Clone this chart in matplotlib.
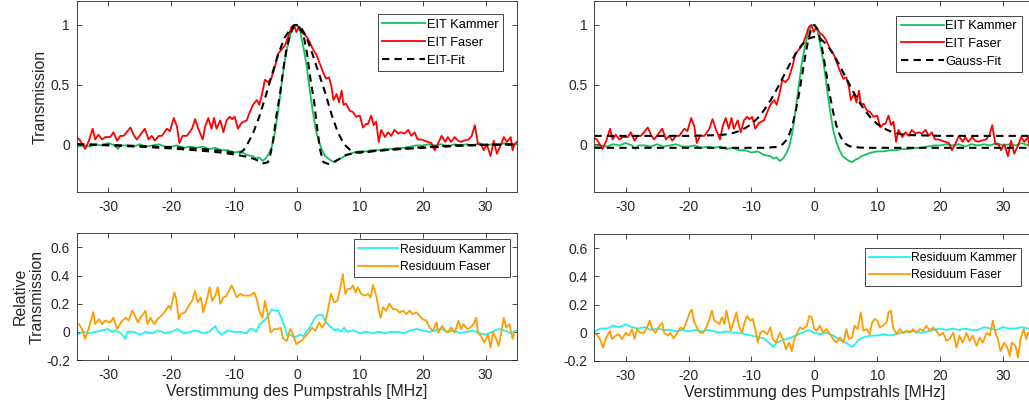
import numpy as np
import matplotlib.pyplot as plt

plt.rcParams['font.family'] = ['Liberation Sans', 'DejaVu Sans']
plt.rcParams['axes.unicode_minus'] = False

faser_x = [-35.0, -34.6, -33.7, -33.1, -32.5, -32.1, -31.6, -31.0, -30.5, -29.7,
           -29.2, -28.6, -28.1, -27.6, -27.1, -26.5, -26.0, -25.5, -24.9, -24.2,
           -23.6, -23.1, -22.6, -22.0, -21.5, -20.7, -20.2, -19.6, -19.1, -18.7,
           -18.2, -17.5, -16.7, -16.2, -15.7, -15.0, -14.6, -14.1, -13.6, -13.2,
           -12.8, -12.2, -11.7, -11.2, -10.7, -10.3, -9.9, -9.4, -8.8, -8.0,
           -7.5, -7.0, -6.4, -6.0, -5.6, -5.1, -4.6, -4.1, -3.5, -3.0,
           -2.5, -1.9, -1.4, -0.9, -0.5, -0.1, 0.3, 0.9, 1.4, 1.9,
           2.5, 3.1, 3.6, 4.1, 4.6, 5.1, 5.5, 5.8, 6.3, 6.7,
           7.1, 7.4, 7.8, 8.4, 8.9, 9.4, 10.0, 10.5, 11.0, 11.3,
           11.8, 12.2, 12.6, 13.0, 13.4, 14.0, 14.5, 15.0, 15.5, 16.1,
           16.6, 17.1, 17.7, 18.2, 18.7, 19.2, 19.8, 20.3, 20.8, 21.4,
           21.9, 22.4, 23.0, 23.6, 24.0, 24.5, 25.1, 25.6, 26.1, 26.6,
           27.3, 27.8, 28.3, 28.8, 29.3, 29.7, 30.2, 30.8, 31.3, 31.8,
           32.4, 32.9, 33.4, 34.0, 34.3, 34.6, 35.0]
faser_y = [0.05, 0.04, -0.04, 0.03, 0.13, 0.04, 0.08, 0.04, 0.06, 0.06,
           0.10, 0.03, 0.07, 0.07, 0.10, 0.14, 0.08, 0.04, 0.08, 0.13,
           0.04, 0.07, 0.03, 0.07, 0.07, 0.13, 0.11, 0.22, 0.15, 0.01,
           0.07, 0.07, 0.13, 0.21, 0.13, 0.04, 0.15, 0.22, 0.13, 0.22,
           0.13, 0.20, 0.10, 0.20, 0.23, 0.21, 0.23, 0.13, 0.18, 0.20,
           0.27, 0.33, 0.37, 0.33, 0.41, 0.54, 0.52, 0.55, 0.65, 0.76,
           0.79, 0.83, 0.90, 0.98, 1.00, 0.94, 0.98, 0.93, 0.91, 0.87,
           0.80, 0.75, 0.68, 0.61, 0.55, 0.56, 0.48, 0.37, 0.42, 0.35,
           0.45, 0.33, 0.34, 0.28, 0.27, 0.23, 0.24, 0.14, 0.17, 0.17,
           0.24, 0.16, 0.19, 0.02, 0.12, 0.06, 0.10, 0.07, 0.12, 0.09,
           0.10, 0.09, 0.12, 0.07, 0.10, 0.04, 0.04, 0.03, 0.02, 0.01,
           -0.05, 0.00, 0.07, 0.02, 0.06, 0.02, 0.06, 0.03, 0.02, 0.03,
           0.04, 0.07, 0.16, 0.00, 0.00, -0.05, 0.00, -0.10, 0.03, -0.08,
           -0.01, 0.06, 0.02, 0.06, -0.05, 0.00, 0.02]

kammer_x = [-35, -34, -33, -32, -31, -30, -29, -28.5, -28, -27,
            -26, -25, -24, -23, -22, -21, -20, -19, -18, -17,
            -16, -15, -14, -13, -12, -11, -10, -9, -8, -7,
            -6.5, -6, -5.5, -5, -4.5, -4, -3.5, -3, -2.5, -2,
            -1.5, -1, -0.5, 0, 0.5, 1, 1.5, 2, 2.5, 3,
            3.5, 4, 4.5, 5, 5.5, 6, 6.5, 7, 7.5, 8,
            9, 10, 11, 12, 13, 14, 15, 16, 17, 18,
            19, 20, 21, 22, 23, 24, 25, 26, 27, 28,
            29, 30, 31, 32, 33, 34, 35]
kammer_y = [-0.02, -0.01, -0.02, 0.0, -0.01, 0.01, -0.01, -0.04, -0.01, -0.01,
            -0.02, 0.0, -0.02, -0.01, 0.0, -0.02, -0.02, -0.01, -0.03, -0.02,
            -0.03, -0.02, -0.04, -0.03, -0.05, -0.05, -0.07, -0.06, -0.09, -0.10,
            -0.12, -0.11, -0.14, -0.12, -0.08, -0.02, 0.10, 0.28, 0.48, 0.68,
            0.82, 0.93, 0.99, 1.0, 0.95, 0.82, 0.67, 0.47, 0.28, 0.12,
            0.02, -0.05, -0.10, -0.12, -0.14, -0.15, -0.13, -0.12, -0.10, -0.09,
            -0.07, -0.06, -0.06, -0.05, -0.05, -0.04, -0.04, -0.03, -0.03, -0.02,
            -0.01, -0.01, 0.0, -0.01, 0.0, -0.02, 0.0, -0.01, 0.0, -0.01,
            0.01, -0.01, 0.0, -0.01, 0.01, -0.01, 0.0]

# EIT-Fits (links)
eitfit_k_x = [-35, -30, -25, -20, -15, -12, -10, -8, -7, -6,
              -5.3, -4.6, -4.2, -3.8, -3.3, -2.7, -2.2, -1.7, -1.1, -0.5,
              0, 0.5, 1.1, 1.6, 2.1, 2.7, 3.2, 3.7, 4.2, 5.0,
              5.5, 6.5, 7.8, 9.4, 11, 15, 20, 25, 30, 35]
eitfit_k_y = [0.0, -0.01, -0.02, -0.035, -0.055, -0.07, -0.085, -0.105, -0.12, -0.14,
              -0.16, -0.15, -0.08, 0.03, 0.23, 0.42, 0.62, 0.79, 0.92, 0.99,
              1.0, 0.97, 0.9, 0.76, 0.56, 0.37, 0.14, -0.05, -0.15, -0.165,
              -0.16, -0.13, -0.09, -0.07, -0.06, -0.045, -0.03, -0.015, -0.005, 0.0]
eitfit_f_x = [-35, -30, -25, -20, -15, -12, -10, -9, -8.5, -8,
              -7.5, -7, -6, -5, -4, -3, -2, -1, -0.3, 0.5,
              1.5, 2.5, 3.5, 4.5, 5.5, 6.5, 7.5, 8.5, 9.5, 10.5,
              12, 15, 20, 25, 30, 35]
eitfit_f_y = [0.0, -0.005, -0.015, -0.025, -0.04, -0.055, -0.07, -0.07, -0.05, -0.01,
              0.04, 0.09, 0.23, 0.40, 0.58, 0.75, 0.89, 0.97, 1.0, 0.99,
              0.90, 0.75, 0.59, 0.43, 0.25, 0.10, 0.0, -0.05, -0.07, -0.07,
              -0.06, -0.045, -0.025, -0.01, -0.005, 0.0]

# Gauss-Fits (rechts)
gauss_f_x = [-35, -20, -15, -14, -13, -12, -11, -10, -9, -8, -7, -6, -5, -4, -3, -2, -1,
             0, 1, 2, 3, 4, 5, 6, 7, 8, 9, 10, 11, 12, 13, 14, 15, 20, 35]
gauss_f_y = [0.07, 0.07, 0.077, 0.083, 0.093, 0.11, 0.135, 0.17, 0.22, 0.285, 0.365, 0.458,
             0.56, 0.662, 0.756, 0.833, 0.883, 0.90, 0.883, 0.833, 0.756, 0.662, 0.56,
             0.458, 0.365, 0.285, 0.22, 0.17, 0.135, 0.11, 0.093, 0.083, 0.077, 0.07, 0.07]
gauss_k_x = [-35, -8, -6, -5.5, -5, -4.5, -4, -3.5, -3, -2.5, -2, -1.5, -1, -0.5,
             0, 0.5, 1, 1.5, 2, 2.5, 3, 3.5, 4, 4.5, 5, 5.5, 6, 8, 35]
gauss_k_y = [-0.03, -0.03, -0.023, -0.014, 0.002, 0.032, 0.082, 0.159, 0.266, 0.403,
             0.562, 0.724, 0.867, 0.965, 1.0, 0.965, 0.867, 0.724, 0.562, 0.403,
             0.266, 0.159, 0.082, 0.032, 0.002, -0.014, -0.023, -0.03, -0.03]

# Residuen EIT-Fit
res_k_eit_x = [-35, -34, -33, -32, -31, -30, -29.5, -29, -28, -27.3,
               -27, -26, -25, -24, -23, -22, -21, -20, -19, -18,
               -17, -16, -15, -14, -13, -12.5, -12, -11, -10, -9,
               -8, -7.5, -7, -6.5, -6, -5.5, -5, -4.5, -4, -3.5,
               -3, -2.5, -2, -1.5, -1, -0.5, 0, 0.5, 1, 1.5,
               2, 2.5, 3, 3.5, 4, 4.5, 5, 5.5, 6, 6.5,
               7, 7.5, 8, 9, 10, 11, 12, 13, 14, 15,
               16, 17, 18, 19, 20, 21, 22, 23, 24, 25,
               26, 27, 28, 29, 30, 31, 32, 33, 34, 35]
res_k_eit_y = [-0.02, 0.0, -0.01, 0.0, 0.01, 0.02, 0.0, 0.01, -0.01, -0.05,
               0.0, 0.0, -0.02, 0.0, -0.01, 0.01, -0.01, 0.0, 0.02, -0.01,
               0.0, 0.01, -0.01, 0.0, 0.04, 0.0, -0.02, 0.01, 0.0, 0.0,
               -0.01, 0.02, 0.02, 0.0, 0.05, 0.07, 0.09, 0.12, 0.16, 0.15,
               0.15, 0.10, 0.04, -0.03, -0.02, -0.04, -0.03, -0.02, -0.03, 0.0,
               0.03, 0.07, 0.11, 0.12, 0.12, 0.08, 0.05, 0.03, 0.01, 0.02,
               0.0, 0.03, 0.0, 0.01, -0.01, 0.0, -0.01, 0.0, -0.01, 0.0,
               0.0, -0.01, 0.01, 0.02, 0.01, 0.0, 0.01, 0.02, 0.0, 0.01,
               -0.01, 0.0, 0.01, -0.01, -0.02, 0.0, 0.02, 0.01, -0.01, 0.01]
res_f_eit_x = [-34.7, -34.2, -33.7, -33.1, -32.4, -32.1, -31.5, -31.0, -30.5, -29.7,
               -29.2, -28.6, -28.0, -27.3, -26.8, -26.2, -25.9, -25.3, -24.9, -24.1,
               -23.8, -23.3, -22.7, -22.2, -21.6, -21.1, -20.4, -20.1, -19.5, -19.2,
               -18.8, -18.5, -17.8, -17.2, -16.7, -16.2, -15.8, -15.3, -14.9, -14.4,
               -13.9, -13.5, -13.0, -12.6, -12.2, -11.7, -11.2, -10.7, -10.4, -10.0,
               -9.6, -9.0, -8.5, -8.0, -7.5, -6.8, -6.4, -6.0, -5.5, -5.1,
               -4.7, -4.2, -3.6, -3.1, -2.6, -2.2, -1.6, -1.1, -0.6, -0.14,
               0.18, 0.7, 1.35, 1.87, 2.4, 2.9, 3.5, 4.0, 4.5, 4.95,
               5.4, 5.9, 6.4, 6.8, 7.3, 7.7, 8.1, 8.5, 8.9, 9.3,
               9.7, 10.2, 10.8, 11.3, 11.7, 12.1, 12.6, 13.0, 13.3, 13.7,
               14.2, 14.7, 15.3, 15.8, 16.3, 16.9, 17.4, 17.9, 18.4, 19.0,
               19.5, 20.0, 20.6, 21.1, 21.6, 22.2, 22.5, 23.1, 23.6, 24.0,
               24.5, 25.1, 25.7, 26.1, 26.5, 27.1, 27.6, 28.1, 28.5, 28.8,
               29.3, 29.8, 30.4, 30.8, 31.2, 31.7, 32.1, 32.5, 32.9, 33.3,
               33.8, 34.3, 34.6]
res_f_eit_y = [0.055, 0.02, -0.05, 0.03, 0.14, 0.055, 0.09, 0.055, 0.08, 0.067,
               0.10, 0.02, 0.067, 0.10, 0.08, 0.15, 0.126, 0.067, 0.10, 0.15,
               0.055, 0.10, 0.055, 0.09, 0.114, 0.138, 0.186, 0.16, 0.28, 0.233,
               0.09, 0.126, 0.138, 0.186, 0.22, 0.29, 0.21, 0.245, 0.138, 0.22,
               0.317, 0.22, 0.257, 0.317, 0.20, 0.245, 0.257, 0.305, 0.33, 0.293,
               0.245, 0.27, 0.257, 0.257, 0.257, 0.28, 0.233, 0.15, 0.10, 0.22,
               0.138, -0.005, 0.02, 0.02, 0.03, -0.05, -0.064, 0.02, -0.017, -0.088,
               -0.076, -0.064, -0.03, -0.005, 0.03, 0.007, 0.067, 0.03, 0.067, 0.16,
               0.27, 0.21, 0.22, 0.29, 0.41, 0.27, 0.305, 0.305, 0.33, 0.28,
               0.317, 0.27, 0.257, 0.27, 0.245, 0.333, 0.257, 0.16, 0.10, 0.174,
               0.15, 0.20, 0.16, 0.16, 0.138, 0.15, 0.126, 0.15, 0.126, 0.138,
               0.114, 0.09, 0.08, 0.03, 0.007, 0.067, -0.005, 0.043, 0.007, -0.005,
               0.03, -0.005, 0.08, 0.02, 0.055, 0.02, 0.03, 0.055, 0.10, -0.005,
               -0.03, -0.076, -0.017, -0.112, -0.005, -0.05, -0.10, -0.005, 0.10, 0.03,
               0.055, -0.05, -0.005]

# Residuen Gauss-Fit
res_k_gauss_x = [-35, -34, -33, -32, -31, -30, -29, -28, -27, -26,
                 -25, -24, -23, -22, -21, -20, -19, -18, -17, -16,
                 -15, -14, -13, -12, -11, -10, -9, -8, -7, -6.5,
                 -6, -5, -4, -3, -2, -1, 0, 1, 2, 3,
                 4, 5, 6, 6.5, 7, 8, 9, 10, 11, 12,
                 13, 14, 15, 16, 17, 18, 19, 20, 21, 22,
                 23, 24, 25, 26, 27, 28, 29, 30, 31, 32,
                 33, 34, 35]
res_k_gauss_y = [0.01, 0.03, 0.03, 0.05, 0.04, 0.06, 0.04, 0.03, 0.04, 0.02,
                 0.03, 0.02, 0.02, 0.01, 0.02, 0.01, 0.02, 0.01, 0.02, 0.01,
                 0.0, 0.01, 0.0, 0.0, -0.01, -0.02, -0.03, -0.04, -0.08, -0.10,
                 -0.07, -0.05, -0.04, -0.02, 0.0, 0.02, 0.0, -0.01, 0.0, -0.02,
                 -0.05, -0.07, -0.10, -0.08, -0.05, -0.03, -0.02, -0.02, -0.01, -0.02,
                 -0.01, 0.0, 0.01, 0.01, 0.0, 0.01, 0.02, 0.03, 0.02, 0.03,
                 0.02, 0.03, 0.02, 0.02, 0.04, 0.03, 0.02, 0.04, 0.03, 0.03,
                 0.04, 0.03, 0.03]
res_f_gauss_x = [-34.7, -34.1, -33.6, -33.1, -32.5, -32.2, -31.6, -31.1, -30.6, -30.0,
                 -29.5, -29.0, -28.6, -28.2, -27.7, -27.1, -26.6, -26.2, -25.8, -25.3,
                 -24.8, -24.2, -23.9, -23.3, -22.9, -22.4, -21.8, -21.3, -20.8, -20.4,
                 -19.8, -19.5, -19.1, -18.7, -18.2, -17.7, -17.2, -16.7, -16.3, -15.9,
                 -15.5, -15.1, -14.7, -14.3, -14.0, -13.6, -13.3, -12.8, -12.4, -12.0,
                 -11.5, -11.1, -10.7, -10.2, -9.8, -9.4, -9.0, -8.6, -8.1, -7.5,
                 -7.0, -6.6, -6.1, -5.5, -5.0, -4.5, -4.0, -3.6, -3.2, -2.7,
                 -2.3, -1.8, -1.2, -0.8, -0.4, -0.02, 0.35, 0.9, 1.4, 1.9,
                 2.5, 3.0, 3.5, 4.1, 4.6, 5.1, 5.5, 6.0, 6.4, 6.9,
                 7.4, 7.8, 8.3, 8.8, 9.2, 9.6, 10.0, 10.4, 10.9, 11.5,
                 11.8, 12.2, 12.5, 13.1, 13.6, 14.1, 14.7, 15.2, 15.7, 16.2,
                 16.8, 17.3, 17.8, 18.4, 18.9, 19.4, 19.9, 20.5, 21.0, 21.5,
                 22.1, 22.6, 23.1, 23.6, 24.2, 24.7, 25.2, 25.8, 26.3, 26.8,
                 27.4, 27.9, 28.4, 28.8, 29.2, 29.6, 30.2, 30.7, 31.1, 31.4,
                 32.0, 32.4, 32.8, 33.3, 33.7, 34.0, 34.5, 35.0]
res_f_gauss_y = [-0.01, -0.045, -0.105, -0.033, 0.014, -0.045, -0.02, -0.01, -0.045, 0.0,
                 -0.02, 0.026, -0.045, 0.026, 0.0, 0.0, 0.038, 0.086, 0.026, 0.0,
                 0.038, 0.07, 0.0, -0.02, 0.0, -0.04, 0.0, 0.038, 0.026, 0.074,
                 0.145, 0.164, 0.074, 0.038, 0.0, 0.0, 0.038, 0.093, 0.157, 0.086,
                 0.074, 0.062, 0.11, 0.062, 0.157, 0.079, 0.014, 0.086, 0.145, 0.05,
                 0.0, 0.074, 0.12, 0.086, 0.098, 0.026, -0.07, 0.0, 0.014, -0.01,
                 0.038, -0.045, -0.07, 0.0, -0.045, -0.117, -0.07, -0.13, -0.045, 0.0,
                 0.038, 0.026, 0.05, 0.12, 0.11, 0.026, 0.014, 0.05, 0.0, 0.026,
                 -0.01, -0.045, -0.07, -0.033, -0.07, 0.026, -0.045, -0.033, 0.05, 0.026,
                 0.145, 0.014, 0.026, -0.01, 0.074, 0.098, 0.086, 0.038, 0.05, 0.074,
                 0.145, 0.157, 0.038, -0.01, 0.026, 0.0, 0.014, 0.0, 0.026, 0.0,
                 0.026, 0.014, 0.05, 0.014, 0.038, 0.014, -0.02, 0.0, -0.057, -0.045,
                 0.0, -0.105, -0.02, -0.07, 0.0, -0.057, -0.02, -0.093, -0.033, -0.07,
                 0.0, -0.02, 0.086, 0.0, -0.045, -0.13, -0.07, -0.105, -0.164, -0.07,
                 -0.093, -0.176, -0.045, 0.026, -0.045, 0.0, -0.03, -0.05]

xticks = [-30, -20, -10, 0, 10, 20, 30]
xticklabels = ['-30', '-20', '-10', '0', '10', '20', '30']
top_yticks = [0, 0.5, 1]
top_yticklabels = ['0', '0.5', '1']
bot_yticks = [-0.2, 0, 0.2, 0.4, 0.6]
bot_yticklabels = ['-0.2', '0', '0.2', '0.4', '0.6']

c_kammer = '#12C25C'
c_faser = '#FF0000'
c_res_k = '#1FF2F2'
c_res_f = '#FF9C00'
axcol = '#262626'

fig = plt.figure(figsize=(10.29, 4.12), dpi=100)
ax_tl = fig.add_axes([0.0748, 0.534, 0.4276, 0.4636])
ax_tr = fig.add_axes([0.5776, 0.534, 0.4276, 0.4636])
ax_bl = fig.add_axes([0.0748, 0.1262, 0.4276, 0.3075])
ax_br = fig.add_axes([0.5776, 0.1238, 0.4276, 0.3083])


def style(ax, ylim, yticks, yticklabels):
    ax.set_xlim(-35, 35)
    ax.set_ylim(*ylim)
    ax.set_xticks(xticks)
    ax.set_xticklabels(xticklabels)
    ax.set_yticks(yticks)
    ax.set_yticklabels(yticklabels)
    ax.tick_params(direction='in', top=True, right=True, length=3.5, width=0.6,
                   colors=axcol, labelsize=10)
    ax.tick_params(axis='x', pad=6)
    ax.tick_params(axis='y', pad=5)
    for s in ax.spines.values():
        s.set_color(axcol)
        s.set_linewidth(0.6)


def legend(ax, anchor, fs):
    leg = ax.legend(loc='upper right', bbox_to_anchor=anchor, borderaxespad=0,
                    fancybox=False, framealpha=1, edgecolor=axcol, fontsize=fs,
                    handlelength=3.3, handletextpad=0.15, borderpad=0.35,
                    labelspacing=0.45)
    leg.get_frame().set_linewidth(0.6)
    for t in leg.get_texts():
        t.set_color('black')


dash = dict(color='black', lw=1.5, dashes=(3.5, 2.5))

# oben links: EIT-Fit
ax_tl.plot(kammer_x, kammer_y, color=c_kammer, lw=1.3, label='EIT Kammer')
ax_tl.plot(faser_x, faser_y, color=c_faser, lw=1.3, label='EIT Faser')
ax_tl.plot(eitfit_k_x, eitfit_k_y, label='EIT-Fit', **dash)
ax_tl.plot(eitfit_f_x, eitfit_f_y, **dash)
style(ax_tl, (-0.4, 1.2), top_yticks, top_yticklabels)
ax_tl.set_ylabel('Transmission', fontsize=11.4, color=axcol)
ax_tl.yaxis.set_label_coords(-0.066, 0.5)
legend(ax_tl, (0.968, 0.93), 9.3)

# oben rechts: Gauss-Fit
ax_tr.plot(kammer_x, kammer_y, color=c_kammer, lw=1.3, label='EIT Kammer')
ax_tr.plot(faser_x, faser_y, color=c_faser, lw=1.3, label='EIT Faser')
ax_tr.plot(gauss_k_x, gauss_k_y, label='Gauss-Fit', **dash)
ax_tr.plot(gauss_f_x, gauss_f_y, **dash)
style(ax_tr, (-0.4, 1.2), top_yticks, top_yticklabels)
legend(ax_tr, (0.971, 0.924), 9.3)

# unten links
ax_bl.plot(res_k_eit_x, res_k_eit_y, color=c_res_k, lw=1.3, label='Residuum Kammer')
ax_bl.plot(res_f_eit_x, res_f_eit_y, color=c_res_f, lw=1.3, label='Residuum Faser')
style(ax_bl, (-0.2, 0.7), bot_yticks, bot_yticklabels)
ax_bl.set_ylabel('Relative\nTransmission', fontsize=11.4, color=axcol, linespacing=1.15)
ax_bl.yaxis.set_label_coords(-0.073, 0.5)
ax_bl.set_xlabel('Verstimmung des Pumpstrahls [MHz]', fontsize=11.4, color=axcol)
ax_bl.xaxis.set_label_coords(0.5, -0.19)
legend(ax_bl, (0.984, 0.953), 8.8)

# unten rechts
ax_br.plot(res_k_gauss_x, res_k_gauss_y, color=c_res_k, lw=1.3, label='Residuum Kammer')
ax_br.plot(res_f_gauss_x, res_f_gauss_y, color=c_res_f, lw=1.3, label='Residuum Faser')
style(ax_br, (-0.2, 0.7), bot_yticks, bot_yticklabels)
ax_br.set_xlabel('Verstimmung des Pumpstrahls [MHz]', fontsize=11.4, color=axcol)
ax_br.xaxis.set_label_coords(0.5, -0.19)
legend(ax_br, (0.97, 0.892), 8.8)

fig.savefig('out.png', dpi=100)
